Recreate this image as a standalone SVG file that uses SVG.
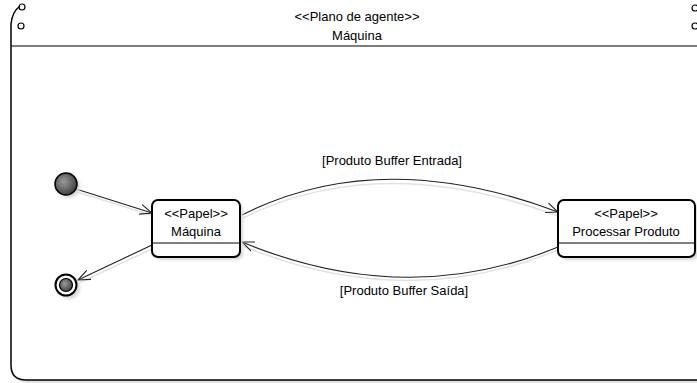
<svg xmlns="http://www.w3.org/2000/svg" width="697" height="383" viewBox="0 0 697 383">
<style>
text{font-family:"Liberation Sans",Arial,sans-serif;font-size:13px;fill:#000;text-anchor:middle}
.box{fill:#fff;stroke:#000;stroke-width:2}
.shadow{fill:#d8d8d8;filter:url(#blur)}
.div{stroke:#000;stroke-width:1.2}
.edge{fill:none;stroke:#222;stroke-width:1.1;marker-end:url(#arr)}
.eshadow{fill:none;stroke:#e2e2e2;stroke-width:1.5}
.icon{fill:none;stroke:#000;stroke-width:1.2}
</style>
<defs>
<filter id="blur" x="-20%" y="-20%" width="140%" height="140%"><feGaussianBlur stdDeviation="1.5"/></filter>
<radialGradient id="g" cx="0.4" cy="0.4" r="0.6"><stop offset="0" stop-color="#9a9a9a"/><stop offset="1" stop-color="#444"/></radialGradient>
<marker id="arr" markerWidth="14" markerHeight="12" refX="12" refY="6" orient="auto" markerUnits="userSpaceOnUse"><path d="M0,1 L12,6 L0,11" fill="none" stroke="#222" stroke-width="1.1"/></marker>
</defs>
<g id="frame">
<path d="M14,-2 L14,368 Q14,383 29,383 L700,383 L700,-2 Z" class="shadow"/>
<path d="M11,-5 L11,365 Q11,380 26,380 L700,380 L700,-5 Z" fill="#fff"/>
<path d="M20,6 Q12,12 11,24 L11,365 Q11,380 26,380 L700,380" fill="none" stroke="#000" stroke-width="1.5"/>
<line x1="11" y1="46" x2="697" y2="46" stroke="#000" stroke-width="1.2"/>
<circle cx="21" cy="26" r="3" class="icon"/>
<circle cx="22" cy="7" r="3" class="icon"/>
<circle cx="695" cy="26" r="3" class="icon"/>
<circle cx="695" cy="8" r="3" class="icon"/>
<text x="357" y="21">&lt;&lt;Plano de agente&gt;&gt;</text>
<text x="357" y="40">Máquina</text>
</g>
<g id="connectors">
<path d="M77,192 L154,216" class="eshadow"/>
<path d="M154,248 L79,283" class="eshadow"/>
<path d="M243,218 Q380,150 558,216" class="eshadow"/>
<path d="M558,250 Q406,313 243,246" class="eshadow"/>
<path d="M76,189 L152,213" class="edge"/>
<path d="M152,245 L78,280" class="edge"/>
<path d="M242,215 Q380,145 558,212" class="edge"/>
<path d="M558,247 Q406,310 242,242" class="edge"/>
<text x="392" y="165">[Produto Buffer Entrada]</text>
<text x="404" y="295">[Produto Buffer Saída]</text>
</g>
<g id="initial">
<circle cx="69" cy="187" r="11" class="shadow"/>
<circle cx="66" cy="184" r="11" fill="url(#g)" stroke="#000" stroke-width="1.5"/>
</g>
<g id="final">
<circle cx="69" cy="288" r="11" class="shadow"/>
<circle cx="66" cy="285" r="10.5" fill="#fff" stroke="#000" stroke-width="2"/>
<circle cx="66" cy="285" r="6.5" fill="url(#g)" stroke="#000" stroke-width="1.2"/>
</g>
<g id="maquina">
<rect x="155" y="203" width="88" height="57" rx="6" class="shadow"/>
<rect x="152" y="200" width="88" height="57" rx="6" class="box"/>
<line x1="152" y1="243" x2="240" y2="243" class="div"/>
<text x="196" y="218">&lt;&lt;Papel&gt;&gt;</text>
<text x="196" y="236">Máquina</text>
</g>
<g id="processar">
<rect x="561" y="203" width="137" height="57" rx="6" class="shadow"/>
<rect x="558" y="200" width="137" height="57" rx="6" class="box"/>
<line x1="558" y1="243" x2="695" y2="243" class="div"/>
<text x="626" y="218">&lt;&lt;Papel&gt;&gt;</text>
<text x="626" y="236">Processar Produto</text>
</g>
</svg>
